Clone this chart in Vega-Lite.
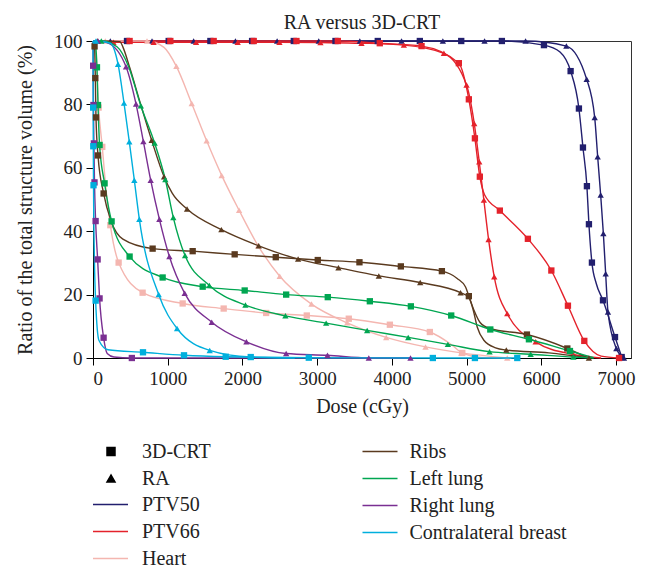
{
  "$schema": "https://vega.github.io/schema/vega-lite/v6.json",
  "width": 538,
  "height": 317,
  "autosize": {"type": "none"},
  "padding": {"left": 93, "top": 41, "right": 17, "bottom": 211},
  "background": "white",
  "title": {"text": "RA versus 3D-CRT", "offset": 2, "dy": 3},
  "config": {
    "font": "Liberation Serif, Times New Roman, serif",
    "view": {"stroke": "#333", "strokeWidth": 1},
    "title": {"font": "Liberation Serif, Times New Roman, serif", "fontSize": 20, "fontWeight": "normal", "color": "#222", "anchor": "middle"},
    "axis": {"grid": false, "domainColor": "#000", "tickColor": "#000", "labelColor": "#222", "titleColor": "#222", "labelFont": "Liberation Serif, Times New Roman, serif", "titleFont": "Liberation Serif, Times New Roman, serif", "labelFontSize": 19, "titleFontSize": 20, "titleFontWeight": "normal", "tickSize": 7, "labelPadding": 4},
    "legend": {"labelFont": "Liberation Serif, Times New Roman, serif", "labelFontSize": 20, "labelColor": "#222", "labelLimit": 400, "symbolBaseFillColor": "#000", "symbolBaseStrokeColor": "#000", "padding": 0, "rowPadding": 2, "clipHeight": 25}
  },
  "datasets": {
    "a": [
      {"s": "PTV50", "t": "3D-CRT", "d": 0, "v": 100, "m": 0},
      {"s": "PTV50", "t": "3D-CRT", "d": 455, "v": 100, "m": 1},
      {"s": "PTV50", "t": "3D-CRT", "d": 1013, "v": 100, "m": 1},
      {"s": "PTV50", "t": "3D-CRT", "d": 1571, "v": 100, "m": 1},
      {"s": "PTV50", "t": "3D-CRT", "d": 2129, "v": 100, "m": 1},
      {"s": "PTV50", "t": "3D-CRT", "d": 2687, "v": 100, "m": 1},
      {"s": "PTV50", "t": "3D-CRT", "d": 3245, "v": 100, "m": 1},
      {"s": "PTV50", "t": "3D-CRT", "d": 3811, "v": 100, "m": 1},
      {"s": "PTV50", "t": "3D-CRT", "d": 4374, "v": 100, "m": 1},
      {"s": "PTV50", "t": "3D-CRT", "d": 4928, "v": 100, "m": 1},
      {"s": "PTV50", "t": "3D-CRT", "d": 5472, "v": 100, "m": 1},
      {"s": "PTV50", "t": "3D-CRT", "d": 6035, "v": 98.7, "m": 1},
      {"s": "PTV50", "t": "3D-CRT", "d": 6250, "v": 96.5, "m": 0},
      {"s": "PTV50", "t": "3D-CRT", "d": 6392, "v": 90.5, "m": 1},
      {"s": "PTV50", "t": "3D-CRT", "d": 6503, "v": 78.7, "m": 1},
      {"s": "PTV50", "t": "3D-CRT", "d": 6557, "v": 66.4, "m": 1},
      {"s": "PTV50", "t": "3D-CRT", "d": 6610, "v": 54.2, "m": 1},
      {"s": "PTV50", "t": "3D-CRT", "d": 6637, "v": 42.2, "m": 1},
      {"s": "PTV50", "t": "3D-CRT", "d": 6677, "v": 30.1, "m": 1},
      {"s": "PTV50", "t": "3D-CRT", "d": 6735, "v": 23.5, "m": 0},
      {"s": "PTV50", "t": "3D-CRT", "d": 6825, "v": 18.2, "m": 1},
      {"s": "PTV50", "t": "3D-CRT", "d": 6986, "v": 6.6, "m": 1},
      {"s": "PTV50", "t": "3D-CRT", "d": 7075, "v": 0.3, "m": 1},
      {"s": "PTV50", "t": "RA", "d": 0, "v": 100, "m": 0},
      {"s": "PTV50", "t": "RA", "d": 232, "v": 100, "m": 1},
      {"s": "PTV50", "t": "RA", "d": 790, "v": 100, "m": 1},
      {"s": "PTV50", "t": "RA", "d": 1347, "v": 100, "m": 1},
      {"s": "PTV50", "t": "RA", "d": 1906, "v": 100, "m": 1},
      {"s": "PTV50", "t": "RA", "d": 2464, "v": 100, "m": 1},
      {"s": "PTV50", "t": "RA", "d": 3021, "v": 100, "m": 1},
      {"s": "PTV50", "t": "RA", "d": 3571, "v": 100, "m": 1},
      {"s": "PTV50", "t": "RA", "d": 4129, "v": 100, "m": 1},
      {"s": "PTV50", "t": "RA", "d": 4682, "v": 100, "m": 1},
      {"s": "PTV50", "t": "RA", "d": 5240, "v": 100, "m": 1},
      {"s": "PTV50", "t": "RA", "d": 5789, "v": 100, "m": 1},
      {"s": "PTV50", "t": "RA", "d": 6335, "v": 98.4, "m": 1},
      {"s": "PTV50", "t": "RA", "d": 6607, "v": 87.9, "m": 1},
      {"s": "PTV50", "t": "RA", "d": 6714, "v": 75.9, "m": 1},
      {"s": "PTV50", "t": "RA", "d": 6754, "v": 63.5, "m": 1},
      {"s": "PTV50", "t": "RA", "d": 6794, "v": 51.4, "m": 1},
      {"s": "PTV50", "t": "RA", "d": 6830, "v": 39.3, "m": 1},
      {"s": "PTV50", "t": "RA", "d": 6861, "v": 26.6, "m": 1},
      {"s": "PTV50", "t": "RA", "d": 6892, "v": 14.5, "m": 1},
      {"s": "PTV50", "t": "RA", "d": 7004, "v": 3, "m": 1},
      {"s": "PTV50", "t": "RA", "d": 7106, "v": 0, "m": 1},
      {"s": "PTV66", "t": "3D-CRT", "d": 0, "v": 100, "m": 0},
      {"s": "PTV66", "t": "3D-CRT", "d": 490, "v": 100, "m": 1},
      {"s": "PTV66", "t": "3D-CRT", "d": 1035, "v": 100, "m": 1},
      {"s": "PTV66", "t": "3D-CRT", "d": 1615, "v": 100, "m": 1},
      {"s": "PTV66", "t": "3D-CRT", "d": 2151, "v": 100, "m": 1},
      {"s": "PTV66", "t": "3D-CRT", "d": 2723, "v": 100, "m": 1},
      {"s": "PTV66", "t": "3D-CRT", "d": 3276, "v": 100, "m": 1},
      {"s": "PTV66", "t": "3D-CRT", "d": 3838, "v": 99.3, "m": 1},
      {"s": "PTV66", "t": "3D-CRT", "d": 4397, "v": 98.4, "m": 1},
      {"s": "PTV66", "t": "3D-CRT", "d": 4896, "v": 93, "m": 1},
      {"s": "PTV66", "t": "3D-CRT", "d": 5030, "v": 81.6, "m": 1},
      {"s": "PTV66", "t": "3D-CRT", "d": 5111, "v": 69.3, "m": 1},
      {"s": "PTV66", "t": "3D-CRT", "d": 5177, "v": 57.2, "m": 1},
      {"s": "PTV66", "t": "3D-CRT", "d": 5240, "v": 51.5, "m": 0},
      {"s": "PTV66", "t": "3D-CRT", "d": 5445, "v": 46.5, "m": 1},
      {"s": "PTV66", "t": "3D-CRT", "d": 5820, "v": 37.6, "m": 1},
      {"s": "PTV66", "t": "3D-CRT", "d": 6134, "v": 27.6, "m": 1},
      {"s": "PTV66", "t": "3D-CRT", "d": 6356, "v": 16.5, "m": 1},
      {"s": "PTV66", "t": "3D-CRT", "d": 6575, "v": 5.4, "m": 1},
      {"s": "PTV66", "t": "3D-CRT", "d": 6800, "v": 0.6, "m": 0},
      {"s": "PTV66", "t": "3D-CRT", "d": 7040, "v": 0, "m": 1},
      {"s": "PTV66", "t": "RA", "d": 0, "v": 100, "m": 0},
      {"s": "PTV66", "t": "RA", "d": 273, "v": 99.6, "m": 1},
      {"s": "PTV66", "t": "RA", "d": 811, "v": 99.6, "m": 1},
      {"s": "PTV66", "t": "RA", "d": 1379, "v": 99.6, "m": 1},
      {"s": "PTV66", "t": "RA", "d": 1936, "v": 99.6, "m": 1},
      {"s": "PTV66", "t": "RA", "d": 2495, "v": 99.6, "m": 1},
      {"s": "PTV66", "t": "RA", "d": 3044, "v": 99.5, "m": 1},
      {"s": "PTV66", "t": "RA", "d": 3593, "v": 99.3, "m": 1},
      {"s": "PTV66", "t": "RA", "d": 4160, "v": 98.7, "m": 1},
      {"s": "PTV66", "t": "RA", "d": 4696, "v": 96.1, "m": 1},
      {"s": "PTV66", "t": "RA", "d": 4999, "v": 86.1, "m": 1},
      {"s": "PTV66", "t": "RA", "d": 5102, "v": 74, "m": 1},
      {"s": "PTV66", "t": "RA", "d": 5169, "v": 61.9, "m": 1},
      {"s": "PTV66", "t": "RA", "d": 5231, "v": 49.8, "m": 1},
      {"s": "PTV66", "t": "RA", "d": 5294, "v": 37.4, "m": 1},
      {"s": "PTV66", "t": "RA", "d": 5370, "v": 25.6, "m": 1},
      {"s": "PTV66", "t": "RA", "d": 5544, "v": 14, "m": 1},
      {"s": "PTV66", "t": "RA", "d": 5924, "v": 5.1, "m": 1},
      {"s": "PTV66", "t": "RA", "d": 6430, "v": 1.1, "m": 1},
      {"s": "PTV66", "t": "RA", "d": 6800, "v": 0, "m": 0},
      {"s": "Heart", "t": "3D-CRT", "d": 0, "v": 100, "m": 0},
      {"s": "Heart", "t": "3D-CRT", "d": 40, "v": 96, "m": 0},
      {"s": "Heart", "t": "3D-CRT", "d": 75, "v": 79, "m": 1},
      {"s": "Heart", "t": "3D-CRT", "d": 124, "v": 66.6, "m": 1},
      {"s": "Heart", "t": "3D-CRT", "d": 175, "v": 53, "m": 0},
      {"s": "Heart", "t": "3D-CRT", "d": 232, "v": 41.9, "m": 1},
      {"s": "Heart", "t": "3D-CRT", "d": 343, "v": 30.1, "m": 1},
      {"s": "Heart", "t": "3D-CRT", "d": 664, "v": 20.6, "m": 1},
      {"s": "Heart", "t": "3D-CRT", "d": 1200, "v": 17.2, "m": 1},
      {"s": "Heart", "t": "3D-CRT", "d": 1749, "v": 15.6, "m": 1},
      {"s": "Heart", "t": "3D-CRT", "d": 2317, "v": 14.2, "m": 1},
      {"s": "Heart", "t": "3D-CRT", "d": 2861, "v": 13.4, "m": 1},
      {"s": "Heart", "t": "3D-CRT", "d": 3423, "v": 12.4, "m": 1},
      {"s": "Heart", "t": "3D-CRT", "d": 3973, "v": 10.5, "m": 1},
      {"s": "Heart", "t": "3D-CRT", "d": 4508, "v": 8.2, "m": 1},
      {"s": "Heart", "t": "3D-CRT", "d": 4780, "v": 4.5, "m": 0},
      {"s": "Heart", "t": "3D-CRT", "d": 4942, "v": 1.6, "m": 1},
      {"s": "Heart", "t": "3D-CRT", "d": 5200, "v": 0.2, "m": 0},
      {"s": "Heart", "t": "3D-CRT", "d": 5600, "v": 0, "m": 0},
      {"s": "Heart", "t": "RA", "d": 0, "v": 100, "m": 0},
      {"s": "Heart", "t": "RA", "d": 165, "v": 100, "m": 1},
      {"s": "Heart", "t": "RA", "d": 723, "v": 100, "m": 1},
      {"s": "Heart", "t": "RA", "d": 950, "v": 98, "m": 0},
      {"s": "Heart", "t": "RA", "d": 1116, "v": 92, "m": 1},
      {"s": "Heart", "t": "RA", "d": 1321, "v": 80.3, "m": 1},
      {"s": "Heart", "t": "RA", "d": 1521, "v": 68.5, "m": 1},
      {"s": "Heart", "t": "RA", "d": 1722, "v": 57.6, "m": 1},
      {"s": "Heart", "t": "RA", "d": 1955, "v": 46.6, "m": 1},
      {"s": "Heart", "t": "RA", "d": 2210, "v": 35.4, "m": 1},
      {"s": "Heart", "t": "RA", "d": 2499, "v": 25.8, "m": 1},
      {"s": "Heart", "t": "RA", "d": 2924, "v": 17, "m": 1},
      {"s": "Heart", "t": "RA", "d": 3402, "v": 11.1, "m": 1},
      {"s": "Heart", "t": "RA", "d": 3924, "v": 6.5, "m": 1},
      {"s": "Heart", "t": "RA", "d": 4450, "v": 3.5, "m": 1},
      {"s": "Heart", "t": "RA", "d": 4928, "v": 1.6, "m": 1},
      {"s": "Heart", "t": "RA", "d": 5544, "v": 0, "m": 1}
    ],
    "b": [
      {"s": "Ribs", "t": "3D-CRT", "d": 0, "v": 100, "m": 0},
      {"s": "Ribs", "t": "3D-CRT", "d": 21, "v": 98.3, "m": 1},
      {"s": "Ribs", "t": "3D-CRT", "d": 31, "v": 88.3, "m": 1},
      {"s": "Ribs", "t": "3D-CRT", "d": 40, "v": 75.9, "m": 1},
      {"s": "Ribs", "t": "3D-CRT", "d": 67, "v": 63.9, "m": 1},
      {"s": "Ribs", "t": "3D-CRT", "d": 142, "v": 51.9, "m": 1},
      {"s": "Ribs", "t": "3D-CRT", "d": 245, "v": 43, "m": 0},
      {"s": "Ribs", "t": "3D-CRT", "d": 400, "v": 37.5, "m": 0},
      {"s": "Ribs", "t": "3D-CRT", "d": 798, "v": 34.5, "m": 1},
      {"s": "Ribs", "t": "3D-CRT", "d": 1334, "v": 33.7, "m": 1},
      {"s": "Ribs", "t": "3D-CRT", "d": 1896, "v": 32.7, "m": 1},
      {"s": "Ribs", "t": "3D-CRT", "d": 2446, "v": 31.8, "m": 1},
      {"s": "Ribs", "t": "3D-CRT", "d": 3008, "v": 30.9, "m": 1},
      {"s": "Ribs", "t": "3D-CRT", "d": 3566, "v": 30.2, "m": 1},
      {"s": "Ribs", "t": "3D-CRT", "d": 4120, "v": 28.9, "m": 1},
      {"s": "Ribs", "t": "3D-CRT", "d": 4669, "v": 27.4, "m": 1},
      {"s": "Ribs", "t": "3D-CRT", "d": 4874, "v": 25.1, "m": 0},
      {"s": "Ribs", "t": "3D-CRT", "d": 4986, "v": 22.4, "m": 0},
      {"s": "Ribs", "t": "3D-CRT", "d": 5030, "v": 19.5, "m": 1},
      {"s": "Ribs", "t": "3D-CRT", "d": 5100, "v": 15, "m": 0},
      {"s": "Ribs", "t": "3D-CRT", "d": 5180, "v": 11.2, "m": 0},
      {"s": "Ribs", "t": "3D-CRT", "d": 5311, "v": 9.3, "m": 0},
      {"s": "Ribs", "t": "3D-CRT", "d": 5807, "v": 7.4, "m": 1},
      {"s": "Ribs", "t": "3D-CRT", "d": 6348, "v": 3.0, "m": 1},
      {"s": "Ribs", "t": "3D-CRT", "d": 6616, "v": 0.1, "m": 0},
      {"s": "Ribs", "t": "RA", "d": 0, "v": 100, "m": 0},
      {"s": "Ribs", "t": "RA", "d": 60, "v": 100, "m": 1},
      {"s": "Ribs", "t": "RA", "d": 360, "v": 99.8, "m": 0},
      {"s": "Ribs", "t": "RA", "d": 402, "v": 98, "m": 0},
      {"s": "Ribs", "t": "RA", "d": 490, "v": 91.7, "m": 0},
      {"s": "Ribs", "t": "RA", "d": 624, "v": 81.1, "m": 0},
      {"s": "Ribs", "t": "RA", "d": 785, "v": 68.7, "m": 1},
      {"s": "Ribs", "t": "RA", "d": 951, "v": 57.2, "m": 1},
      {"s": "Ribs", "t": "RA", "d": 1060, "v": 52, "m": 0},
      {"s": "Ribs", "t": "RA", "d": 1259, "v": 47, "m": 1},
      {"s": "Ribs", "t": "RA", "d": 1718, "v": 40.5, "m": 1},
      {"s": "Ribs", "t": "RA", "d": 2218, "v": 35.4, "m": 1},
      {"s": "Ribs", "t": "RA", "d": 2745, "v": 31.2, "m": 1},
      {"s": "Ribs", "t": "RA", "d": 3285, "v": 28.5, "m": 1},
      {"s": "Ribs", "t": "RA", "d": 3825, "v": 25.9, "m": 1},
      {"s": "Ribs", "t": "RA", "d": 4379, "v": 23.8, "m": 1},
      {"s": "Ribs", "t": "RA", "d": 4919, "v": 20.6, "m": 1},
      {"s": "Ribs", "t": "RA", "d": 5030, "v": 19.1, "m": 0},
      {"s": "Ribs", "t": "RA", "d": 5090, "v": 15, "m": 0},
      {"s": "Ribs", "t": "RA", "d": 5142, "v": 9.8, "m": 0},
      {"s": "Ribs", "t": "RA", "d": 5231, "v": 5.6, "m": 0},
      {"s": "Ribs", "t": "RA", "d": 5388, "v": 3.2, "m": 0},
      {"s": "Ribs", "t": "RA", "d": 5531, "v": 2.5, "m": 1},
      {"s": "Ribs", "t": "RA", "d": 6100, "v": 1.6, "m": 0},
      {"s": "Ribs", "t": "RA", "d": 6637, "v": 0, "m": 1},
      {"s": "Left lung", "t": "3D-CRT", "d": 0, "v": 100, "m": 0},
      {"s": "Left lung", "t": "3D-CRT", "d": 30, "v": 99, "m": 0},
      {"s": "Left lung", "t": "3D-CRT", "d": 53, "v": 91.7, "m": 1},
      {"s": "Left lung", "t": "3D-CRT", "d": 67, "v": 79.8, "m": 1},
      {"s": "Left lung", "t": "3D-CRT", "d": 88, "v": 67.2, "m": 1},
      {"s": "Left lung", "t": "3D-CRT", "d": 155, "v": 55.1, "m": 1},
      {"s": "Left lung", "t": "3D-CRT", "d": 249, "v": 43.1, "m": 1},
      {"s": "Left lung", "t": "3D-CRT", "d": 490, "v": 32, "m": 1},
      {"s": "Left lung", "t": "3D-CRT", "d": 932, "v": 25.4, "m": 1},
      {"s": "Left lung", "t": "3D-CRT", "d": 1468, "v": 22.5, "m": 1},
      {"s": "Left lung", "t": "3D-CRT", "d": 2030, "v": 21.3, "m": 1},
      {"s": "Left lung", "t": "3D-CRT", "d": 2585, "v": 20, "m": 1},
      {"s": "Left lung", "t": "3D-CRT", "d": 3142, "v": 19.2, "m": 1},
      {"s": "Left lung", "t": "3D-CRT", "d": 3705, "v": 17.9, "m": 1},
      {"s": "Left lung", "t": "3D-CRT", "d": 4254, "v": 16.3, "m": 1},
      {"s": "Left lung", "t": "3D-CRT", "d": 4794, "v": 13.4, "m": 1},
      {"s": "Left lung", "t": "3D-CRT", "d": 5317, "v": 9, "m": 1},
      {"s": "Left lung", "t": "3D-CRT", "d": 5834, "v": 5.9, "m": 1},
      {"s": "Left lung", "t": "3D-CRT", "d": 6383, "v": 2.2, "m": 1},
      {"s": "Left lung", "t": "3D-CRT", "d": 6700, "v": 0.1, "m": 0},
      {"s": "Left lung", "t": "RA", "d": 0, "v": 100, "m": 0},
      {"s": "Left lung", "t": "RA", "d": 111, "v": 100, "m": 1},
      {"s": "Left lung", "t": "RA", "d": 321, "v": 98.2, "m": 0},
      {"s": "Left lung", "t": "RA", "d": 477, "v": 91.9, "m": 0},
      {"s": "Left lung", "t": "RA", "d": 640, "v": 79.6, "m": 1},
      {"s": "Left lung", "t": "RA", "d": 825, "v": 67.8, "m": 1},
      {"s": "Left lung", "t": "RA", "d": 968, "v": 56.3, "m": 1},
      {"s": "Left lung", "t": "RA", "d": 1075, "v": 44.3, "m": 1},
      {"s": "Left lung", "t": "RA", "d": 1232, "v": 32.3, "m": 1},
      {"s": "Left lung", "t": "RA", "d": 1557, "v": 22.9, "m": 1},
      {"s": "Left lung", "t": "RA", "d": 2040, "v": 16.7, "m": 1},
      {"s": "Left lung", "t": "RA", "d": 2575, "v": 13.3, "m": 1},
      {"s": "Left lung", "t": "RA", "d": 3120, "v": 11, "m": 1},
      {"s": "Left lung", "t": "RA", "d": 3669, "v": 8.7, "m": 1},
      {"s": "Left lung", "t": "RA", "d": 4219, "v": 6.5, "m": 1},
      {"s": "Left lung", "t": "RA", "d": 4749, "v": 4.3, "m": 1},
      {"s": "Left lung", "t": "RA", "d": 5307, "v": 2.0, "m": 1},
      {"s": "Left lung", "t": "RA", "d": 5857, "v": 1.2, "m": 1},
      {"s": "Left lung", "t": "RA", "d": 6429, "v": 0.3, "m": 1},
      {"s": "Left lung", "t": "RA", "d": 6700, "v": 0, "m": 0},
      {"s": "Right lung", "t": "3D-CRT", "d": 0, "v": 100, "m": 0},
      {"s": "Right lung", "t": "3D-CRT", "d": 2, "v": 92.2, "m": 1},
      {"s": "Right lung", "t": "3D-CRT", "d": 6, "v": 79.8, "m": 1},
      {"s": "Right lung", "t": "3D-CRT", "d": 12, "v": 67.7, "m": 1},
      {"s": "Right lung", "t": "3D-CRT", "d": 20, "v": 55.4, "m": 1},
      {"s": "Right lung", "t": "3D-CRT", "d": 35, "v": 43.2, "m": 1},
      {"s": "Right lung", "t": "3D-CRT", "d": 62, "v": 31.1, "m": 1},
      {"s": "Right lung", "t": "3D-CRT", "d": 88, "v": 18.8, "m": 1},
      {"s": "Right lung", "t": "3D-CRT", "d": 142, "v": 6.4, "m": 1},
      {"s": "Right lung", "t": "3D-CRT", "d": 190, "v": 1.4, "m": 0},
      {"s": "Right lung", "t": "3D-CRT", "d": 280, "v": 0.3, "m": 0},
      {"s": "Right lung", "t": "3D-CRT", "d": 520, "v": 0, "m": 1},
      {"s": "Right lung", "t": "3D-CRT", "d": 4250, "v": 0, "m": 0},
      {"s": "Right lung", "t": "RA", "d": 0, "v": 100, "m": 0},
      {"s": "Right lung", "t": "RA", "d": 67, "v": 100, "m": 1},
      {"s": "Right lung", "t": "RA", "d": 190, "v": 99.5, "m": 0},
      {"s": "Right lung", "t": "RA", "d": 442, "v": 91.9, "m": 1},
      {"s": "Right lung", "t": "RA", "d": 576, "v": 80.1, "m": 1},
      {"s": "Right lung", "t": "RA", "d": 674, "v": 68.3, "m": 1},
      {"s": "Right lung", "t": "RA", "d": 772, "v": 56.1, "m": 1},
      {"s": "Right lung", "t": "RA", "d": 888, "v": 43.8, "m": 1},
      {"s": "Right lung", "t": "RA", "d": 1022, "v": 32, "m": 1},
      {"s": "Right lung", "t": "RA", "d": 1227, "v": 20.4, "m": 1},
      {"s": "Right lung", "t": "RA", "d": 1589, "v": 11.3, "m": 1},
      {"s": "Right lung", "t": "RA", "d": 2053, "v": 5.1, "m": 1},
      {"s": "Right lung", "t": "RA", "d": 2585, "v": 1.4, "m": 1},
      {"s": "Right lung", "t": "RA", "d": 3138, "v": 0.85, "m": 1},
      {"s": "Right lung", "t": "RA", "d": 3691, "v": 0, "m": 1},
      {"s": "Right lung", "t": "RA", "d": 4249, "v": 0, "m": 1},
      {"s": "Contralateral breast", "t": "3D-CRT", "d": 0, "v": 100, "m": 0},
      {"s": "Contralateral breast", "t": "3D-CRT", "d": 2, "v": 79, "m": 1},
      {"s": "Contralateral breast", "t": "3D-CRT", "d": 4, "v": 66.8, "m": 1},
      {"s": "Contralateral breast", "t": "3D-CRT", "d": 7, "v": 54.5, "m": 1},
      {"s": "Contralateral breast", "t": "3D-CRT", "d": 20, "v": 30, "m": 0},
      {"s": "Contralateral breast", "t": "3D-CRT", "d": 35, "v": 18.1, "m": 1},
      {"s": "Contralateral breast", "t": "3D-CRT", "d": 80, "v": 5.5, "m": 0},
      {"s": "Contralateral breast", "t": "3D-CRT", "d": 200, "v": 2.6, "m": 0},
      {"s": "Contralateral breast", "t": "3D-CRT", "d": 669, "v": 1.8, "m": 1},
      {"s": "Contralateral breast", "t": "3D-CRT", "d": 1218, "v": 0.85, "m": 1},
      {"s": "Contralateral breast", "t": "3D-CRT", "d": 1776, "v": 0.4, "m": 1},
      {"s": "Contralateral breast", "t": "3D-CRT", "d": 2111, "v": 0.3, "m": 1},
      {"s": "Contralateral breast", "t": "3D-CRT", "d": 2888, "v": 0.1, "m": 1},
      {"s": "Contralateral breast", "t": "3D-CRT", "d": 4548, "v": 0, "m": 1},
      {"s": "Contralateral breast", "t": "3D-CRT", "d": 5111, "v": 0, "m": 1},
      {"s": "Contralateral breast", "t": "3D-CRT", "d": 5678, "v": 0, "m": 1},
      {"s": "Contralateral breast", "t": "RA", "d": 0, "v": 100, "m": 0},
      {"s": "Contralateral breast", "t": "RA", "d": 40, "v": 100, "m": 1},
      {"s": "Contralateral breast", "t": "RA", "d": 230, "v": 99.3, "m": 0},
      {"s": "Contralateral breast", "t": "RA", "d": 335, "v": 92.7, "m": 1},
      {"s": "Contralateral breast", "t": "RA", "d": 415, "v": 80.4, "m": 1},
      {"s": "Contralateral breast", "t": "RA", "d": 486, "v": 68.2, "m": 1},
      {"s": "Contralateral breast", "t": "RA", "d": 553, "v": 56.1, "m": 1},
      {"s": "Contralateral breast", "t": "RA", "d": 620, "v": 43.8, "m": 1},
      {"s": "Contralateral breast", "t": "RA", "d": 879, "v": 20, "m": 1},
      {"s": "Contralateral breast", "t": "RA", "d": 1125, "v": 9.3, "m": 1},
      {"s": "Contralateral breast", "t": "RA", "d": 1562, "v": 2.4, "m": 1},
      {"s": "Contralateral breast", "t": "RA", "d": 2111, "v": 0.3, "m": 1},
      {"s": "Contralateral breast", "t": "RA", "d": 2700, "v": 0, "m": 0}
    ]
  },
  "encoding": {
    "x": {"field": "d", "type": "quantitative", "scale": {"domain": [0, 7200], "nice": false, "zero": false},
      "axis": {"values": [0, 1000, 2000, 3000, 4000, 5000, 6000, 7000], "format": "d", "title": "Dose (cGy)", "titlePadding": 8}},
    "y": {"field": "v", "type": "quantitative", "scale": {"domain": [0, 100], "nice": false},
      "axis": {"values": [0, 20, 40, 60, 80, 100], "title": "Ratio of the total structure volume (%)", "titlePadding": 18}}
  },
  "layer": [
    {
      "data": {"name": "a"},
      "layer": [
        {
          "mark": {"type": "line", "interpolate": "monotone", "strokeWidth": 1.4},
          "encoding": {
            "color": {"field": "s", "type": "nominal",
              "scale": {"domain": ["PTV50", "PTV66", "Heart"], "range": ["#221f6e", "#e4222b", "#f4b6b0"]},
              "legend": {"orient": "none", "legendX": -1, "legendY": 451, "title": null, "symbolType": "stroke", "symbolSize": 1225, "symbolStrokeWidth": 1.5, "labelOffset": 13, "clipHeight": 25, "rowPadding": 2}},
            "detail": {"field": "t", "type": "nominal"}
          }
        },
        {
          "transform": [{"filter": "datum.m == 1"}],
          "mark": {"type": "point", "filled": true, "size": 40, "opacity": 1},
          "encoding": {
            "color": {"field": "s", "type": "nominal"},
            "shape": {"field": "t", "type": "nominal",
              "scale": {"domain": ["3D-CRT", "RA"], "range": ["square", "triangle-up"]},
              "legend": {"orient": "none", "legendX": 8, "legendY": 398, "title": null, "symbolSize": 64, "symbolFillColor": "#000", "symbolStrokeColor": "#000", "labelOffset": 21, "clipHeight": 25, "rowPadding": 2}}
          }
        }
      ]
    },
    {
      "data": {"name": "b"},
      "layer": [
        {
          "mark": {"type": "line", "interpolate": "monotone", "strokeWidth": 1.4},
          "encoding": {
            "color": {"field": "s", "type": "nominal",
              "scale": {"domain": ["Ribs", "Left lung", "Right lung", "Contralateral breast"], "range": ["#5a3a1f", "#00a651", "#7a2f92", "#00afdd"]},
              "legend": {"orient": "none", "legendX": 268.5, "legendY": 398, "title": null, "symbolType": "stroke", "symbolSize": 1225, "symbolStrokeWidth": 1.5, "labelOffset": 11, "clipHeight": 25, "rowPadding": 2}},
            "detail": {"field": "t", "type": "nominal"}
          }
        },
        {
          "transform": [{"filter": "datum.m == 1"}],
          "mark": {"type": "point", "filled": true, "size": 40, "opacity": 1},
          "encoding": {
            "color": {"field": "s", "type": "nominal"},
            "shape": {"field": "t", "type": "nominal"}
          }
        }
      ]
    }
  ],
  "resolve": {"scale": {"color": "independent"}}
}
